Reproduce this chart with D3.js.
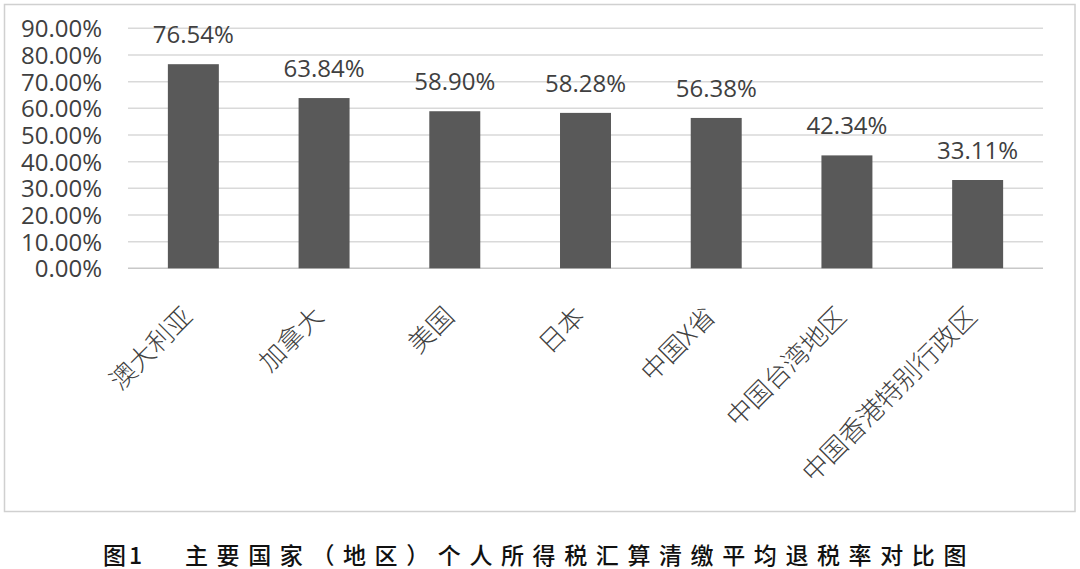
<!DOCTYPE html>
<html><head><meta charset="utf-8">
<script src="https://cdn.jsdelivr.net/npm/d3@7"></script>
<style>
html,body{margin:0;padding:0;background:#fff;}
svg{display:block;}
</style></head>
<body>
<script>
const categories = ["澳大利亚","加拿大","美国","日本","中国X省","中国台湾地区","中国香港特别行政区"];
const values = [76.54, 63.84, 58.90, 58.28, 56.38, 42.34, 33.11];
const yTicks = [0,10,20,30,40,50,60,70,80,90];
const titleLead = "图1";
const titleText = "主要国家（地区）个人所得税汇算清缴平均退税率对比图";

const W = 1080, H = 569;
const svg = d3.select("body").append("svg").attr("width", W).attr("height", H);

// outer frame
svg.append("rect").attr("x",4.5).attr("y",4.5).attr("width",1070.5).attr("height",507)
  .attr("fill","#fff").attr("stroke","#d0d0d0").attr("stroke-width",1.5);

const plot = {left:128, right:1043, top:28.3, bottom:268.3};
const x = d3.scaleBand().domain(categories).range([plot.left, plot.right])
  .paddingInner(0.61).paddingOuter(0.305);
const y = d3.scaleLinear().domain([0,90]).range([plot.bottom, plot.top]);

// gridlines
svg.append("g").selectAll("line").data(yTicks).join("line")
  .attr("x1",plot.left).attr("x2",plot.right)
  .attr("y1",d=>y(d)).attr("y2",d=>y(d))
  .attr("stroke",d=>d===0?"#c8c8c8":"#d9d9d9").attr("stroke-width",1.5);

// y axis labels
const yAxis = d3.axisLeft(y).tickValues(yTicks).tickSize(0).tickPadding(0)
  .tickFormat(d=>d.toFixed(2)+"%");
const ga = svg.append("g").attr("transform",`translate(102,0)`).call(yAxis);
ga.select(".domain").remove();
ga.selectAll("text").attr("font-family","'Open Sans', sans-serif").attr("font-size",24)
  .attr("fill","#404040").attr("dy","0.36em");

// bars
svg.append("g").selectAll("rect").data(values).join("rect")
  .attr("x",(d,i)=>x(categories[i])).attr("width",x.bandwidth())
  .attr("y",d=>y(d)).attr("height",d=>y(0)-y(d))
  .attr("fill","#595959");

// data labels
svg.append("g").selectAll("text").data(values).join("text")
  .attr("x",(d,i)=>x(categories[i])+x.bandwidth()/2)
  .attr("y",d=>y(d)-21)
  .attr("text-anchor","middle")
  .attr("font-family","'Open Sans', sans-serif").attr("font-size",24)
  .attr("fill","#404040")
  .text(d=>d.toFixed(2)+"%");

// x labels rotated
svg.append("g").selectAll("text").data(categories).join("text")
  .attr("transform",d=>`translate(${x(d)+x.bandwidth()/2+1},318) rotate(-45)`)
  .attr("text-anchor","end")
  .attr("font-family","'Noto Sans CJK SC', sans-serif").attr("font-weight",300).attr("font-size",26)
  .attr("fill","#404040")
  .text(d=>d);

// title
const tf = "'Noto Sans CJK SC', sans-serif";
svg.append("text").attr("x",103).attr("y",564)
  .attr("font-family",tf).attr("font-weight",500).attr("font-size",23).attr("fill","#111")
  .attr("letter-spacing",3).text(titleLead);
svg.append("text").attr("x",185).attr("y",564)
  .attr("font-family",tf).attr("font-weight",500).attr("font-size",23).attr("fill","#111")
  .attr("letter-spacing",8.6).text(titleText);
</script>
</body></html>
